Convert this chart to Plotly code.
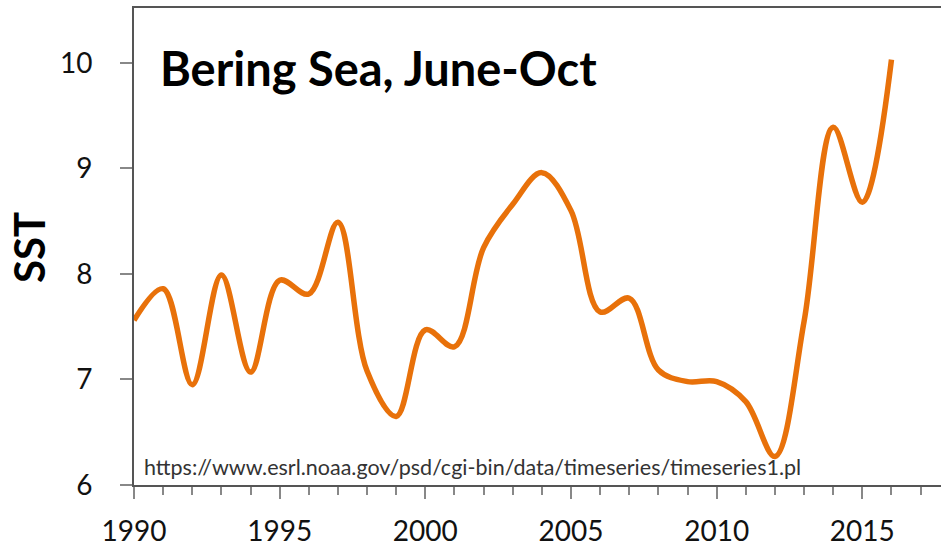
import plotly.graph_objects as go

years = list(range(1990, 2017))
sst = [7.56, 7.86, 6.95, 7.99, 7.07, 7.94, 7.81, 8.49, 7.08, 6.65,
       7.47, 7.31, 8.25, 8.66, 8.96, 8.60, 7.64, 7.77, 7.09, 6.98,
       6.98, 6.79, 6.27, 7.55, 9.39, 8.68, 10.03]
title_text = "Bering Sea, June-Oct"
source_text = "https://www.esrl.noaa.gov/psd/cgi-bin/data/timeseries/timeseries1.pl"
y_label = "SST"
x_ticks = [1990, 1995, 2000, 2005, 2010, 2015]
y_ticks = [6, 7, 8, 9, 10]

W, H = 941, 546
L, R, T, B = 134, 0, 8, 61

fig = go.Figure()
fig.add_trace(go.Scatter(
    x=years, y=sst, mode="lines",
    line=dict(color="#E8710A", width=5.5, shape="spline", smoothing=1.0),
    hoverinfo="skip", showlegend=False,
))

fig.update_layout(
    width=W, height=H,
    margin=dict(l=L, r=R, t=T, b=B, pad=0, autoexpand=False),
    paper_bgcolor="white", plot_bgcolor="white",
    font=dict(family="Lato, Carlito, sans-serif", color="#111"),
    xaxis=dict(
        range=[1990, 2017.7], tickvals=x_ticks, ticks="outside", ticklen=12,
        tickwidth=1.5, tickcolor="#888", showline=True, linecolor="#555",
        linewidth=2, mirror=True, showgrid=False, zeroline=False,
        automargin=False,
        tickfont=dict(size=28, color="#111"), ticklabelstandoff=8,
        minor=dict(dtick=1, tick0=1990, ticks="outside", ticklen=8,
                   tickwidth=1.5, tickcolor="#888", showgrid=False),
    ),
    yaxis=dict(
        range=[6, 10.52], tickvals=y_ticks, ticks="outside", ticklen=12,
        tickwidth=1.5, tickcolor="#888", showline=True, linecolor="#555",
        linewidth=2, mirror=False, showgrid=False, zeroline=False,
        automargin=False,
        tickfont=dict(size=28, color="#111"), ticklabelstandoff=22,
    ),
    annotations=[
        dict(text="<b>" + title_text + "</b>", xref="paper", yref="paper",
             x=24 / 807, y=(485 - 38) / 477, xanchor="left", yanchor="top",
             showarrow=False, font=dict(size=47, color="#000")),
        dict(text=source_text, xref="paper", yref="paper",
             x=8 / 807, y=(485 - 452) / 477, xanchor="left", yanchor="top",
             showarrow=False, font=dict(size=21.5, color="#333")),
        dict(text="<b>" + y_label + "</b>", xref="paper", yref="paper",
             x=-105 / 807, y=(485 - 248) / 477, xanchor="center", yanchor="middle",
             textangle=-90, showarrow=False, font=dict(size=42, color="#000")),
    ],
)

fig.write_html("out.html", config={"displayModeBar": False},
               post_script="document.body.style.margin='0';")
